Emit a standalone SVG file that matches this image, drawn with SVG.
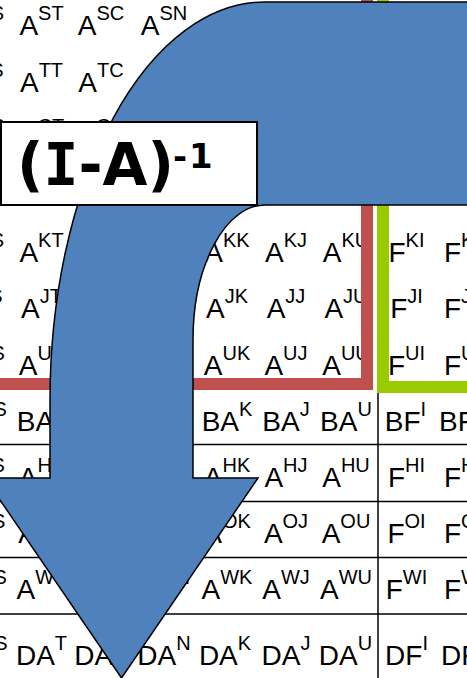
<svg xmlns="http://www.w3.org/2000/svg" width="467" height="678" viewBox="0 0 467 678">
<style>
.c{font-family:"Liberation Sans",Arial,sans-serif;font-size:28px;text-anchor:middle;fill:#000}
.l{font-family:"Liberation Sans",Arial,sans-serif;font-size:28px;fill:#000}
.s{font-size:20px}
.grid{stroke:#000;stroke-width:1.5;fill:none}
.lbl{font-family:"DejaVu Sans",Verdana,sans-serif;font-weight:bold;fill:#000}
.mono{font-family:"DejaVu Sans Mono",monospace}
</style>
<rect width="467" height="678" fill="#fff"/>
<g id="table-text">
<g id="row-S">
<text class="c" x="-18.5" y="35">A<tspan class="s" dy="-15">SS</tspan></text>
<text class="c" x="41.5" y="35">A<tspan class="s" dy="-15">ST</tspan></text>
<text class="c" x="101" y="35">A<tspan class="s" dy="-15">SC</tspan></text>
<text class="c" x="164" y="35">A<tspan class="s" dy="-15">SN</tspan></text>
</g>
<g id="row-T">
<text class="c" x="-18.5" y="91.5">A<tspan class="s" dy="-15">TS</tspan></text>
<text class="c" x="41.5" y="91.5">A<tspan class="s" dy="-15">TT</tspan></text>
<text class="c" x="101" y="91.5">A<tspan class="s" dy="-15">TC</tspan></text>
</g>
<g id="row-C">
<text class="c" x="-18.5" y="148">A<tspan class="s" dy="-15">CS</tspan></text>
<text class="c" x="41.5" y="148">A<tspan class="s" dy="-15">CT</tspan></text>
<text class="c" x="101" y="148">A<tspan class="s" dy="-15">CC</tspan></text>
</g>
<g id="row-K">
<text class="c" x="-18.5" y="261.5">A<tspan class="s" dy="-15">KS</tspan></text>
<text class="c" x="41.5" y="261.5">A<tspan class="s" dy="-15">KT</tspan></text>
<text class="c" x="227" y="261.5">A<tspan class="s" dy="-15">KK</tspan></text>
<text class="c" x="286" y="261.5">A<tspan class="s" dy="-15">KJ</tspan></text>
<text class="c" x="346" y="261.5">A<tspan class="s" dy="-15">KU</tspan></text>
<text class="c" x="406.5" y="261.5">F<tspan class="s" dy="-15">KI</tspan></text>
<text class="l" x="444" y="261.5">F<tspan class="s" dy="-15">K</tspan></text>
</g>
<g id="row-J">
<text class="c" x="-18.5" y="318">A<tspan class="s" dy="-15">JS</tspan></text>
<text class="c" x="41.5" y="318">A<tspan class="s" dy="-15">JT</tspan></text>
<text class="c" x="227" y="318">A<tspan class="s" dy="-15">JK</tspan></text>
<text class="c" x="286" y="318">A<tspan class="s" dy="-15">JJ</tspan></text>
<text class="c" x="346" y="318">A<tspan class="s" dy="-15">JU</tspan></text>
<text class="c" x="406.5" y="318">F<tspan class="s" dy="-15">JI</tspan></text>
<text class="l" x="444" y="318">F<tspan class="s" dy="-15">J</tspan></text>
</g>
<g id="row-U">
<text class="c" x="-18.5" y="374.5">A<tspan class="s" dy="-15">US</tspan></text>
<text class="c" x="41.5" y="374.5">A<tspan class="s" dy="-15">UT</tspan></text>
<text class="c" x="227" y="374.5">A<tspan class="s" dy="-15">UK</tspan></text>
<text class="c" x="286" y="374.5">A<tspan class="s" dy="-15">UJ</tspan></text>
<text class="c" x="346" y="374.5">A<tspan class="s" dy="-15">UU</tspan></text>
<text class="c" x="406.5" y="374.5">F<tspan class="s" dy="-15">UI</tspan></text>
<text class="l" x="444" y="374.5">F<tspan class="s" dy="-15">U</tspan></text>
</g>
<g id="row-BA">
<text class="c" x="-18.5" y="431">BA<tspan class="s" dy="-15">S</tspan></text>
<text class="c" x="41.5" y="431">BA<tspan class="s" dy="-15">T</tspan></text>
<text class="c" x="227" y="431">BA<tspan class="s" dy="-15">K</tspan></text>
<text class="c" x="286" y="431">BA<tspan class="s" dy="-15">J</tspan></text>
<text class="c" x="346" y="431">BA<tspan class="s" dy="-15">U</tspan></text>
<text class="c" x="405.5" y="431">BF<tspan class="s" dy="-15">I</tspan></text>
<text class="l" x="439" y="431">BF</text>
</g>
<g id="row-H">
<text class="c" x="-18.5" y="487">A<tspan class="s" dy="-15">HS</tspan></text>
<text class="c" x="41.5" y="487">A<tspan class="s" dy="-15">HT</tspan></text>
<text class="c" x="227" y="487">A<tspan class="s" dy="-15">HK</tspan></text>
<text class="c" x="286" y="487">A<tspan class="s" dy="-15">HJ</tspan></text>
<text class="c" x="346" y="487">A<tspan class="s" dy="-15">HU</tspan></text>
<text class="c" x="406.5" y="487">F<tspan class="s" dy="-15">HI</tspan></text>
<text class="l" x="444" y="487">F<tspan class="s" dy="-15">H</tspan></text>
</g>
<g id="row-O">
<text class="c" x="-18.5" y="543">A<tspan class="s" dy="-15">OS</tspan></text>
<text class="c" x="41.5" y="543">A<tspan class="s" dy="-15">OT</tspan></text>
<text class="c" x="227" y="543">A<tspan class="s" dy="-15">OK</tspan></text>
<text class="c" x="286" y="543">A<tspan class="s" dy="-15">OJ</tspan></text>
<text class="c" x="346" y="543">A<tspan class="s" dy="-15">OU</tspan></text>
<text class="c" x="406.5" y="543">F<tspan class="s" dy="-15">OI</tspan></text>
<text class="l" x="444" y="543">F<tspan class="s" dy="-15">O</tspan></text>
</g>
<g id="row-W">
<text class="c" x="-18.5" y="599">A<tspan class="s" dy="-15">WS</tspan></text>
<text class="c" x="41.5" y="599">A<tspan class="s" dy="-15">WT</tspan></text>
<text class="c" x="164" y="599">A<tspan class="s" dy="-15">WN</tspan></text>
<text class="c" x="227" y="599">A<tspan class="s" dy="-15">WK</tspan></text>
<text class="c" x="286" y="599">A<tspan class="s" dy="-15">WJ</tspan></text>
<text class="c" x="346" y="599">A<tspan class="s" dy="-15">WU</tspan></text>
<text class="c" x="406.5" y="599">F<tspan class="s" dy="-15">WI</tspan></text>
<text class="l" x="444" y="599">F<tspan class="s" dy="-15">W</tspan></text>
</g>
<g id="row-DA">
<text class="c" x="-18.5" y="665">DA<tspan class="s" dy="-15">S</tspan></text>
<text class="c" x="41.5" y="665">DA<tspan class="s" dy="-15">T</tspan></text>
<text class="c" x="101" y="665">DA<tspan class="s" dy="-15">C</tspan></text>
<text class="c" x="164" y="665">DA<tspan class="s" dy="-15">N</tspan></text>
<text class="c" x="225" y="665">DA<tspan class="s" dy="-15">K</tspan></text>
<text class="c" x="286" y="665">DA<tspan class="s" dy="-15">J</tspan></text>
<text class="c" x="345.5" y="665">DA<tspan class="s" dy="-15">U</tspan></text>
<text class="c" x="406.5" y="665">DF<tspan class="s" dy="-15">I</tspan></text>
<text class="l" x="441" y="665">DF</text>
</g>
</g>
<g id="table-lines" class="grid">
<path d="M378 387V678"/>
<path d="M0 444.5H467M0 501.5H467M0 557.5H467M0 614H467"/>
</g>
<g id="red-block">
<path d="M367 -5V384H-5" fill="none" stroke="#C0504D" stroke-width="12" stroke-linejoin="miter"/>
</g>
<g id="green-block">
<path d="M383 -5V387H472" fill="none" stroke="#99CC00" stroke-width="12" stroke-linejoin="miter"/>
</g>
<g id="arrow">
<path d="M480 2L265 2A215 398 0 0 0 50 400L50 478L-15 478L121.5 678L258 478L193 478L193 340A72 135 0 0 1 265 205L480 205Z" fill="#4F81BD" stroke="#000" stroke-width="1.5" stroke-linejoin="miter"/>
</g>
<g id="label">
<rect x="1" y="122" width="256" height="83" fill="#fff" stroke="#000" stroke-width="2"/>
<text class="lbl" x="17" y="185" font-size="58">(<tspan class="mono">I</tspan>-A)</text>
<text class="lbl" x="173" y="168" font-size="34" letter-spacing="2">-1</text>
</g>
</svg>
